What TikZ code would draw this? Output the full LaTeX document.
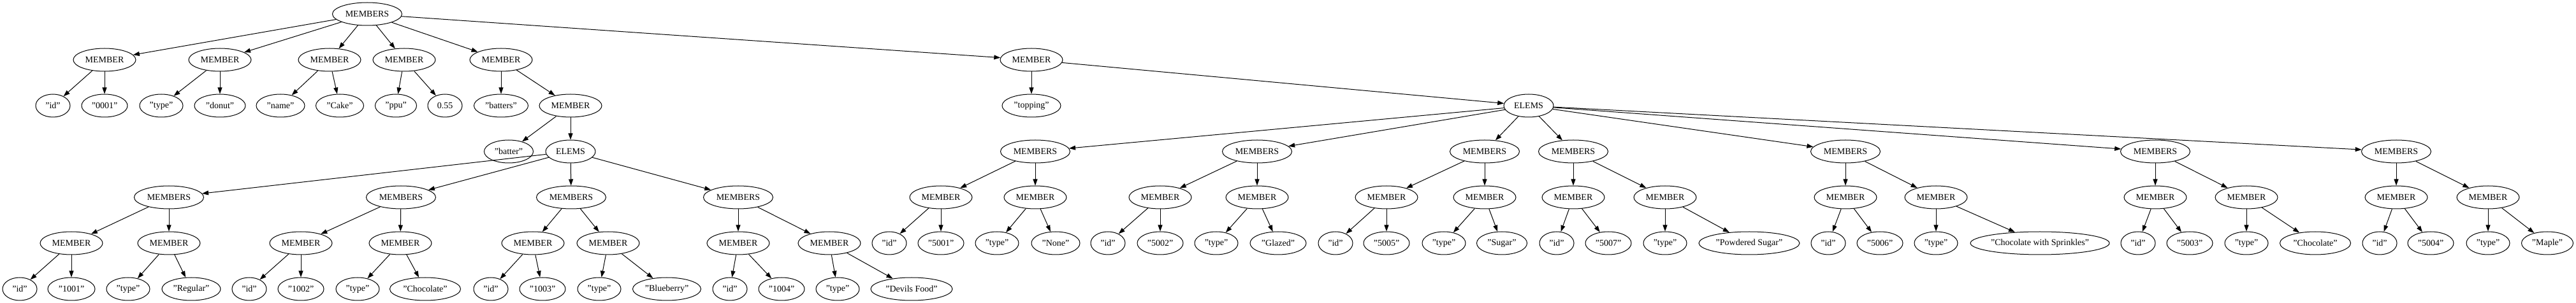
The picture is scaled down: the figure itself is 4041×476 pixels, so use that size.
\documentclass[tikz,border=0pt]{standalone}
\usepackage{fontspec}
\setmainfont{Liberation Serif}
\usetikzlibrary{shapes.geometric,arrows.meta}
\tikzset{
  nd/.style={draw, ellipse, line width=1pt, minimum height=36pt, inner sep=0pt, font=\fontsize{14}{16.8}\selectfont},
  member/.style={nd, minimum width=98pt},
  members/.style={nd, minimum width=109pt},
  elems/.style={nd, minimum width=78pt},
  leaf/.style={nd, minimum width=#1 pt},
  edge/.style={line width=1pt, -{Triangle[length=10pt,width=7pt]}}
}
\begin{document}
\begin{tikzpicture}[x=1pt,y=1pt]
\fill[white] (0,0) rectangle (4041,476);
\useasboundingbox (0,0) rectangle (4041,476);
% rank 0
\node[members] (r) at (576,454) {MEMBERS};
% rank 1
\node[member] (m1) at (164,382) {MEMBER};
\node[member] (m2) at (345,382) {MEMBER};
\node[member] (m3) at (517,382) {MEMBER};
\node[member] (m4) at (634,382) {MEMBER};
\node[member] (m5) at (786,382) {MEMBER};
\node[member] (mt) at (1618,382) {MEMBER};
% rank 2
\node[leaf=54] (m1a) at (83,310) {"id"};
\node[leaf=72] (m1b) at (164,310) {"0001"};
\node[leaf=68] (m2a) at (253,310) {"type"};
\node[leaf=80] (m2b) at (345,310) {"donut"};
\node[leaf=76] (m3a) at (440,310) {"name"};
\node[leaf=75] (m3b) at (533,310) {"Cake"};
\node[leaf=65] (m4a) at (621,310) {"ppu"};
\node[leaf=54] (m4b) at (698,310) {0.55};
\node[leaf=85] (m5a) at (786,310) {"batters"};
\node[member] (bm) at (895,310) {MEMBER};
\node[leaf=92] (mta) at (1618,310) {"topping"};
\node[elems] (e2) at (2398,310) {ELEMS};
% rank 3
\node[leaf=77] (bma) at (798,238) {"batter"};
\node[elems] (e1) at (895,238) {ELEMS};
\node[members] (s1) at (1624,238) {MEMBERS};
\node[members] (s2) at (1972,238) {MEMBERS};
\node[members] (s3) at (2329,238) {MEMBERS};
\node[members] (s4) at (2468,238) {MEMBERS};
\node[members] (s5) at (2895,238) {MEMBERS};
\node[members] (s6) at (3381,238) {MEMBERS};
\node[members] (s7) at (3759,238) {MEMBERS};
% rank 4 left
\node[members] (a) at (265,166) {MEMBERS};
\node[members] (b) at (629,166) {MEMBERS};
\node[members] (c) at (896,166) {MEMBERS};
\node[members] (d) at (1158,166) {MEMBERS};
% rank 4 right
\node[member] (s1L) at (1476,166) {MEMBER};
\node[member] (s1R) at (1624,166) {MEMBER};
\node[member] (s2L) at (1820,166) {MEMBER};
\node[member] (s2R) at (1972,166) {MEMBER};
\node[member] (s3L) at (2175,166) {MEMBER};
\node[member] (s3R) at (2329,166) {MEMBER};
\node[member] (s4L) at (2468,166) {MEMBER};
\node[member] (s4R) at (2612,166) {MEMBER};
\node[member] (s5L) at (2895,166) {MEMBER};
\node[member] (s5R) at (3037,166) {MEMBER};
\node[member] (s6L) at (3381,166) {MEMBER};
\node[member] (s6R) at (3524,166) {MEMBER};
\node[member] (s7L) at (3759,166) {MEMBER};
\node[member] (s7R) at (3903,166) {MEMBER};
% rank 5 left
\node[member] (aL) at (112,94) {MEMBER};
\node[member] (aR) at (265,94) {MEMBER};
\node[member] (bL) at (472,94) {MEMBER};
\node[member] (bR) at (628,94) {MEMBER};
\node[member] (cL) at (836,94) {MEMBER};
\node[member] (cR) at (954,94) {MEMBER};
\node[member] (dL) at (1158,94) {MEMBER};
\node[member] (dR) at (1301,94) {MEMBER};
% rank 5 right leaves
\node[leaf=54] (s1L1) at (1395,94) {"id"};
\node[leaf=72] (s1L2) at (1476,94) {"5001"};
\node[leaf=68] (s1R1) at (1564,94) {"type"};
\node[leaf=76] (s1R2) at (1656,94) {"None"};
\node[leaf=54] (s2L1) at (1738,94) {"id"};
\node[leaf=72] (s2L2) at (1820,94) {"5002"};
\node[leaf=68] (s2R1) at (1908,94) {"type"};
\node[leaf=88] (s2R2) at (2005,94) {"Glazed"};
\node[leaf=54] (s3L1) at (2095,94) {"id"};
\node[leaf=72] (s3L2) at (2175,94) {"5005"};
\node[leaf=68] (s3R1) at (2265,94) {"type"};
\node[leaf=79] (s3R2) at (2356,94) {"Sugar"};
\node[leaf=54] (s4L1) at (2442,94) {"id"};
\node[leaf=72] (s4L2) at (2523,94) {"5007"};
\node[leaf=68] (s4R1) at (2612,94) {"type"};
\node[leaf=158] (s4R2) at (2744,94) {"Powdered Sugar"};
\node[leaf=54] (s5L1) at (2868,94) {"id"};
\node[leaf=72] (s5L2) at (2949,94) {"5006"};
\node[leaf=68] (s5R1) at (3037,94) {"type"};
\node[leaf=218] (s5R2) at (3200,94) {"Chocolate with Sprinkles"};
\node[leaf=54] (s6L1) at (3354,94) {"id"};
\node[leaf=72] (s6L2) at (3435,94) {"5003"};
\node[leaf=68] (s6R1) at (3524,94) {"type"};
\node[leaf=111] (s6R2) at (3632,94) {"Chocolate"};
\node[leaf=54] (s7L1) at (3733,94) {"id"};
\node[leaf=72] (s7L2) at (3813,94) {"5004"};
\node[leaf=68] (s7R1) at (3903,94) {"type"};
\node[leaf=81] (s7R2) at (3996,94) {"Maple"};
% rank 6 left leaves
\node[leaf=54] (aL1) at (31,22) {"id"};
\node[leaf=74] (aL2) at (112,22) {"1001"};
\node[leaf=68] (aR1) at (201,22) {"type"};
\node[leaf=92] (aR2) at (300,22) {"Regular"};
\node[leaf=54] (bL1) at (391,22) {"id"};
\node[leaf=72] (bL2) at (472,22) {"1002"};
\node[leaf=68] (bR1) at (561,22) {"type"};
\node[leaf=111] (bR2) at (667,22) {"Chocolate"};
\node[leaf=54] (cL1) at (770,22) {"id"};
\node[leaf=72] (cL2) at (851,22) {"1003"};
\node[leaf=68] (cR1) at (940,22) {"type"};
\node[leaf=107] (cR2) at (1046,22) {"Blueberry"};
\node[leaf=54] (dL1) at (1145,22) {"id"};
\node[leaf=72] (dL2) at (1226,22) {"1004"};
\node[leaf=68] (dR1) at (1314,22) {"type"};
\node[leaf=128] (dR2) at (1430,22) {"Devils Food"};
% edges
\foreach \p/\c in {r/m1, r/m2, r/m3, r/m4, r/m5, r/mt,
  m1/m1a, m1/m1b, m2/m2a, m2/m2b, m3/m3a, m3/m3b, m4/m4a, m4/m4b,
  m5/m5a, m5/bm, bm/bma, bm/e1, mt/mta, mt/e2,
  e1/a, e1/b, e1/c, e1/d,
  e2/s1, e2/s2, e2/s3, e2/s4, e2/s5, e2/s6, e2/s7}
  \draw[edge] (\p) -- (\c);
\foreach \g in {a,b,c,d,s1,s2,s3,s4,s5,s6,s7}{
  \draw[edge] (\g) -- (\g L);
  \draw[edge] (\g) -- (\g R);
  \draw[edge] (\g L) -- (\g L1);
  \draw[edge] (\g L) -- (\g L2);
  \draw[edge] (\g R) -- (\g R1);
  \draw[edge] (\g R) -- (\g R2);
}
\end{tikzpicture}
\end{document}
